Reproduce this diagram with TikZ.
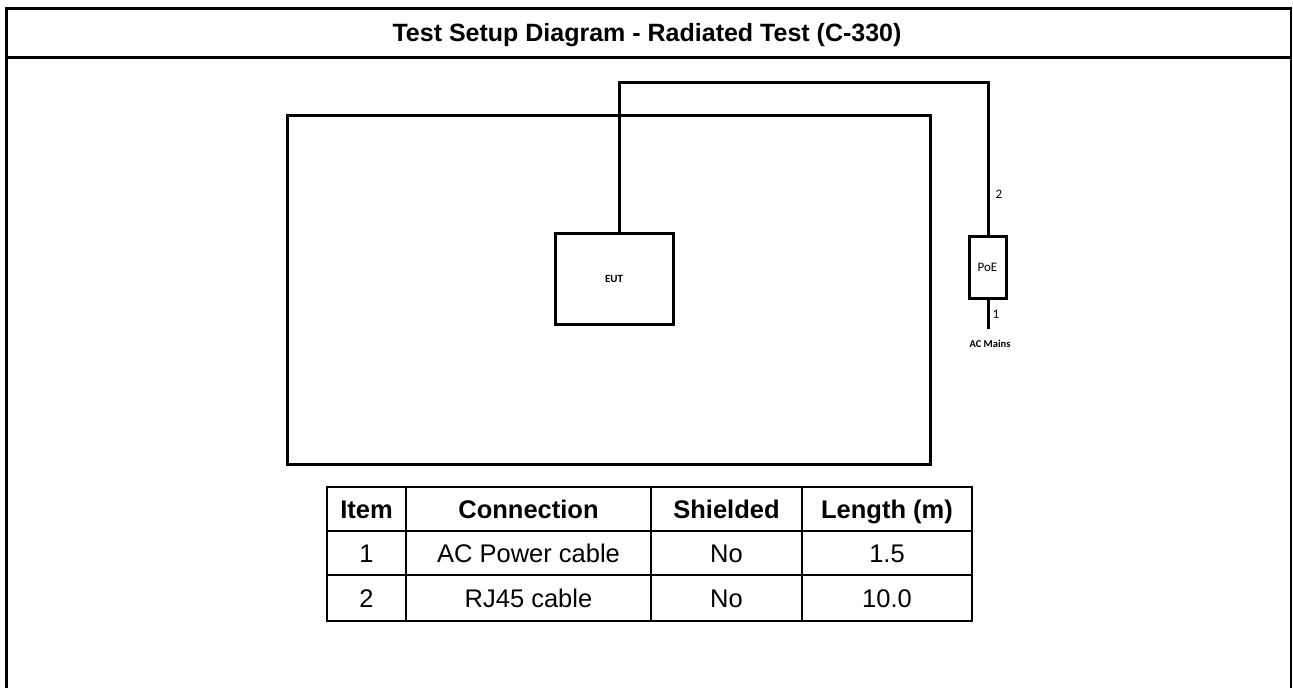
\documentclass[tikz,border=0pt]{standalone}
\usepackage{fontspec}
\setmainfont{Liberation Sans}
\newfontfamily\calibri{Carlito}
\begin{document}
\begin{tikzpicture}[x=1pt,y=-1pt,
  boxnode/.style={draw, line width=3pt, inner sep=0pt},
  cable/.style={line width=3pt},
  tline/.style={line width=1.5pt},
  thead/.style={font=\bfseries\fontsize{25.5}{28}\selectfont, anchor=base, inner sep=0pt},
  tcell/.style={font=\fontsize{25.5}{28}\selectfont, anchor=base, inner sep=0pt},
  small/.style={font=\calibri\fontsize{13}{15}\selectfont, inner sep=0pt}]
\useasboundingbox (0,0) rectangle (1293,688);
\fill[white] (0,0) rectangle (1293,688);
% outer frame
\draw[line width=3pt] (5,8) -- (1292,8);
\draw[line width=3.5pt] (6.5,6.5) -- (6.5,688);
\draw[line width=2pt] (1291,6.5) -- (1291,688);
\draw[line width=3pt] (5,57.5) -- (1292,57.5);
\node[font=\bfseries\fontsize{25}{28}\selectfont, anchor=base, inner sep=0pt] (title) at (647,41) {Test Setup Diagram - Radiated Test (C-330)};
% test area
\node[boxnode, minimum width=643pt, minimum height=348.5pt] (bench) at (608.5,289.75) {};
\node[boxnode, fill=white, minimum width=118pt, minimum height=91pt] (eut) at (614,278.5) {};
\node[font=\calibri\bfseries\fontsize{11}{13}\selectfont] (eutlbl) at (eut.center) {EUT};
\node[boxnode, minimum width=37pt, minimum height=62pt] (poe) at (987.5,267) {};
\node[small] (poelbl) at (poe.center) {PoE};
\coordinate (c1) at (619,82);
\coordinate (c2) at (988,82);
\coordinate (acend) at (988,329);
\draw[cable] (eut.north -| c1) -- (c1) -- (c2) -- (poe.north -| c2);
\draw[cable] (poe.south -| c2) -- (acend);
\node[small] (l2) at (999,194) {2};
\node[small] (l1) at (996,314) {1};
\node[font=\calibri\bfseries\fontsize{10.5}{12}\selectfont, inner sep=0pt] (acm) at (990,344) {AC Mains};
% table
\draw[line width=2pt] (327,487) rectangle (972,621);
\draw[tline] (327,531) -- (972,531);
\draw[tline] (327,575) -- (972,575);
\draw[tline] (406,487) -- (406,621);
\draw[tline] (651,487) -- (651,621);
\draw[tline] (802,487) -- (802,621);
\node[thead] (h1) at (366.5,518) {Item};
\node[thead] (h2) at (528.5,518) {Connection};
\node[thead] (h3) at (726.5,518) {Shielded};
\node[thead] (h4) at (887,518) {Length (m)};
\node[tcell] (a1) at (366.5,562) {1};
\node[tcell] (a2) at (528.5,562) {AC Power cable};
\node[tcell] (a3) at (726.5,562) {No};
\node[tcell] (a4) at (887,562) {1.5};
\node[tcell] (b1) at (366.5,607) {2};
\node[tcell] (b2) at (528.5,607) {RJ45 cable};
\node[tcell] (b3) at (726.5,607) {No};
\node[tcell] (b4) at (887,607) {10.0};
\end{tikzpicture}
\end{document}
